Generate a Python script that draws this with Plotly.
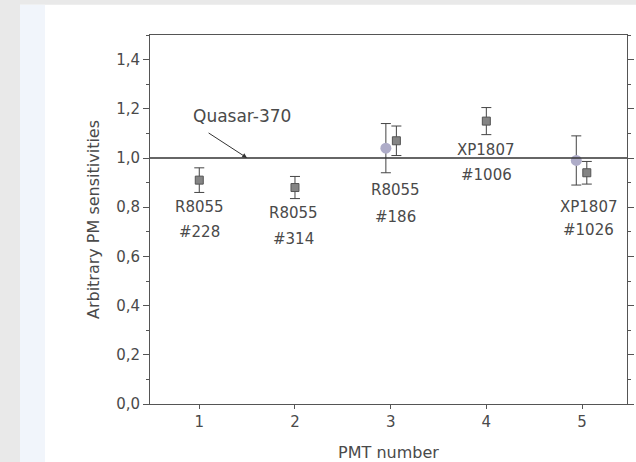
import plotly.graph_objects as go

# ---- data ----
pmt_ticks = [1, 2, 3, 4, 5]
y_tickvals = [0.0, 0.2, 0.4, 0.6, 0.8, 1.0, 1.2, 1.4]
y_ticktext = ["0,0", "0,2", "0,4", "0,6", "0,8", "1,0", "1,2", "1,4"]

sq_x = [1.0, 2.0, 3.06, 4.0, 5.05]
sq_y = [0.91, 0.88, 1.07, 1.15, 0.94]
sq_err = [0.05, 0.045, 0.06, 0.055, 0.046]

ci_x = [2.95, 4.94]
ci_y = [1.04, 0.99]
ci_err = [0.10, 0.10]

ref_value = 1.0

label_x = [1.0, 1.98, 3.05, 4.0, 5.07]
name_y = [0.80, 0.775, 0.87, 1.033, 0.80]
id_y = [0.70, 0.67, 0.76, 0.93, 0.707]
label_names = ["R8055", "R8055", "R8055", "XP1807", "XP1807"]
label_ids = ["#228", "#314", "#186", "#1006", "#1026"]

quasar_text = "Quasar-370"
quasar_text_xy = (1.45, 1.17)
quasar_tip = (1.50, 1.0)

FONT = "DejaVu Sans, Liberation Sans, Arial"
GRAY = "#555555"
TXT = "#4a4a4a"

fig = go.Figure()

fig.add_trace(go.Scatter(
    x=ci_x, y=ci_y, mode="markers",
    marker=dict(symbol="circle", size=11, color="#aeacc8",
                line=dict(width=0)),
    error_y=dict(type="data", array=ci_err, color="#444444",
                 thickness=1, width=5),
    showlegend=False))

fig.add_trace(go.Scatter(
    x=sq_x, y=sq_y, mode="markers",
    marker=dict(symbol="square", size=8, color="#858585",
                line=dict(width=1, color="#555555")),
    error_y=dict(type="data", array=sq_err, color="#444444",
                 thickness=1, width=5),
    showlegend=False))

# reference line
fig.add_shape(type="line", xref="paper", x0=0, x1=1, yref="y",
              y0=ref_value, y1=ref_value,
              line=dict(color="#333333", width=1.5))

# background paper area
fig.add_shape(type="rect", xref="paper", yref="paper",
              x0=-0.2725, x1=1.02, y0=-0.16, y1=1.082,
              fillcolor="white", line=dict(width=0), layer="below")
fig.add_shape(type="rect", xref="paper", yref="paper",
              x0=-0.2725, x1=-0.22, y0=-0.16, y1=1.082,
              fillcolor="#f1f5fb", line=dict(width=0), layer="below")

annotations = []
for x, yn, yi, n, i in zip(label_x, name_y, id_y, label_names, label_ids):
    annotations.append(dict(x=x, y=yn, xref="x", yref="y", text=n,
                            showarrow=False,
                            font=dict(family=FONT, size=15, color=TXT)))
    annotations.append(dict(x=x, y=yi, xref="x", yref="y", text=i,
                            showarrow=False,
                            font=dict(family=FONT, size=15, color=TXT)))

annotations.append(dict(x=quasar_text_xy[0], y=quasar_text_xy[1],
                        xref="x", yref="y", text=quasar_text,
                        showarrow=False,
                        font=dict(family=FONT, size=17, color=TXT)))
annotations.append(dict(x=quasar_tip[0], y=quasar_tip[1], xref="x", yref="y",
                        text="", showarrow=True, ax=-40, ay=-26,
                        arrowhead=2, arrowsize=1, arrowwidth=1,
                        arrowcolor="#333333"))

fig.update_layout(
    width=636, height=462,
    margin=dict(l=150, r=9, t=35, b=58),
    paper_bgcolor="#e9e9e9",
    plot_bgcolor="white",
    showlegend=False,
    annotations=annotations,
    xaxis=dict(range=[0.485, 5.47], tickvals=pmt_ticks, automargin=False,
               ticks="outside", ticklen=4, tickcolor=GRAY,
               showline=True, linecolor=GRAY, linewidth=1, mirror=True,
               showgrid=False, zeroline=False,
               tickfont=dict(family=FONT, size=15, color=TXT),
               title=dict(text="PMT number", standoff=16,
                          font=dict(family=FONT, size=16, color=TXT))),
    yaxis=dict(range=[0, 1.5], tickvals=y_tickvals, ticktext=y_ticktext,
               automargin=False,
               ticks="outside", ticklen=6, tickcolor=GRAY,
               minor=dict(ticks="outside", ticklen=3, dtick=0.1,
                          tick0=0, tickcolor=GRAY),
               showline=True, linecolor=GRAY, linewidth=1, mirror="ticks",
               showgrid=False, zeroline=False,
               tickfont=dict(family=FONT, size=15, color=TXT),
               title=dict(text="Arbitrary PM sensitivities", standoff=12,
                          font=dict(family=FONT, size=16, color=TXT))),
)

fig.write_html("out.html")
